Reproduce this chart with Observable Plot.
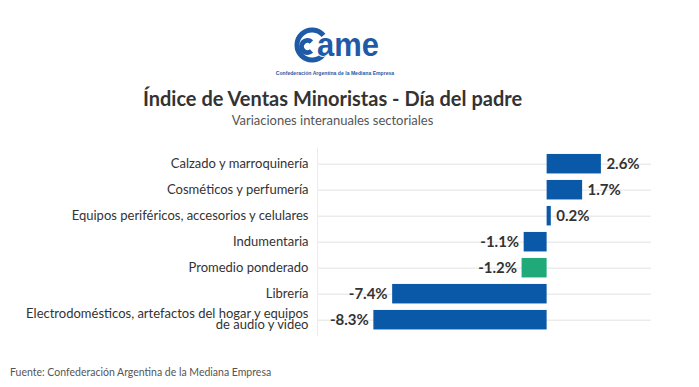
<!DOCTYPE html>
<html><head><meta charset="utf-8">
<script src="https://cdn.jsdelivr.net/npm/d3@7"></script>
<script src="https://cdn.jsdelivr.net/npm/@observablehq/plot@0.6"></script>
<style>
body{margin:0;background:#fff;font-family:Lato,sans-serif;}
#wrap{position:relative;width:699px;height:387px;overflow:hidden;}
.abs{position:absolute;}
#title{left:0;width:665px;top:86px;text-align:center;font-weight:bold;font-size:20px;color:#333;}
#subtitle{left:0;width:665px;top:112px;text-align:center;font-size:13px;color:#555;}
#footer{left:10px;top:366px;font-size:10.5px;color:#555;}
#chart{left:0;top:140px;line-height:0;}
</style></head>
<body>
<div id="wrap">
  <svg class="abs" style="left:0;top:0" width="699" height="85">
    <path d="M 323.5 35.4 A 15 15 0 1 0 323.5 54.6" fill="none" stroke="#1f5aa6" stroke-width="5"/>
    <path d="M 311.5 42 A 6 6 0 1 0 311.5 51" fill="none" stroke="#1f5aa6" stroke-width="5"/>
    <text x="317" y="56" font-family="'Liberation Sans',Arial,sans-serif" font-weight="bold" font-size="33" fill="#1f5aa6" stroke="#fff" stroke-width="1.5" paint-order="stroke" textLength="62" lengthAdjust="spacingAndGlyphs">ame</text>
    <text x="335" y="75" text-anchor="middle" font-family="'Liberation Sans',Arial,sans-serif" font-weight="bold" font-size="5.1" fill="#1f5aa6">Confederación Argentina de la Mediana Empresa</text>
  </svg>
  <div id="title" class="abs">Índice de Ventas Minoristas - Día del padre</div>
  <div id="subtitle" class="abs">Variaciones interanuales sectoriales</div>
  <div id="chart" class="abs"></div>
  <div id="footer" class="abs">Fuente: Confederación Argentina de la Mediana Empresa</div>
</div>
<script>
const categories = [
  "Calzado y marroquinería",
  "Cosméticos y perfumería",
  "Equipos periféricos, accesorios y celulares",
  "Indumentaria",
  "Promedio ponderado",
  "Librería",
  "Electrodomésticos, artefactos del hogar y equipos de audio y video"
];
const tickLabels = [
  "Calzado y marroquinería",
  "Cosméticos y perfumería",
  "Equipos periféricos, accesorios y celulares",
  "Indumentaria",
  "Promedio ponderado",
  "Librería",
  "Electrodomésticos, artefactos del hogar y equipos\nde audio y video"
];
const values = [2.6, 1.7, 0.2, -1.1, -1.2, -7.4, -8.3];
const highlight = "Promedio ponderado";
const BLUE = "#0a59a8", GREEN = "#20aa7a";

const data = categories.map((c, i) => ({cat: c, label: tickLabels[i], value: values[i]}));
const fmt = v => v.toFixed(1) + "%";

const chart = Plot.plot({
  width: 699,
  height: 200,
  marginLeft: 317,
  marginRight: 48,
  marginTop: 7.45,
  marginBottom: 4.05,
  style: {fontFamily: "Lato, sans-serif", color: "#333", background: "transparent"},
  x: {domain: [-11, 5], axis: null},
  y: {domain: categories, padding: 0.25, round: false, axis: null},
  marks: [
    Plot.ruleY(data, {y: "cat", stroke: "#ececec", strokeWidth: 1.5}),
    Plot.ruleX([-11], {stroke: "#ececec", strokeWidth: 1}),
    Plot.barX(data, {x: "value", y: "cat", fill: d => d.cat === highlight ? GREEN : BLUE}),
    Plot.text(data, {y: "cat", text: "label", frameAnchor: "left", textAnchor: "end", dx: -9, fontSize: 13, fill: "#333", lineHeight: 0.8}),
    Plot.text(data.filter(d => d.value >= 0), {x: "value", y: "cat", text: d => fmt(d.value), textAnchor: "start", dx: 5, fontSize: 15, fontWeight: "bold", fill: "#333"}),
    Plot.text(data.filter(d => d.value < 0), {x: "value", y: "cat", text: d => fmt(d.value), textAnchor: "end", dx: -5, fontSize: 15, fontWeight: "bold", fill: "#333"})
  ]
});
document.getElementById("chart").appendChild(chart);
</script>
</body></html>
